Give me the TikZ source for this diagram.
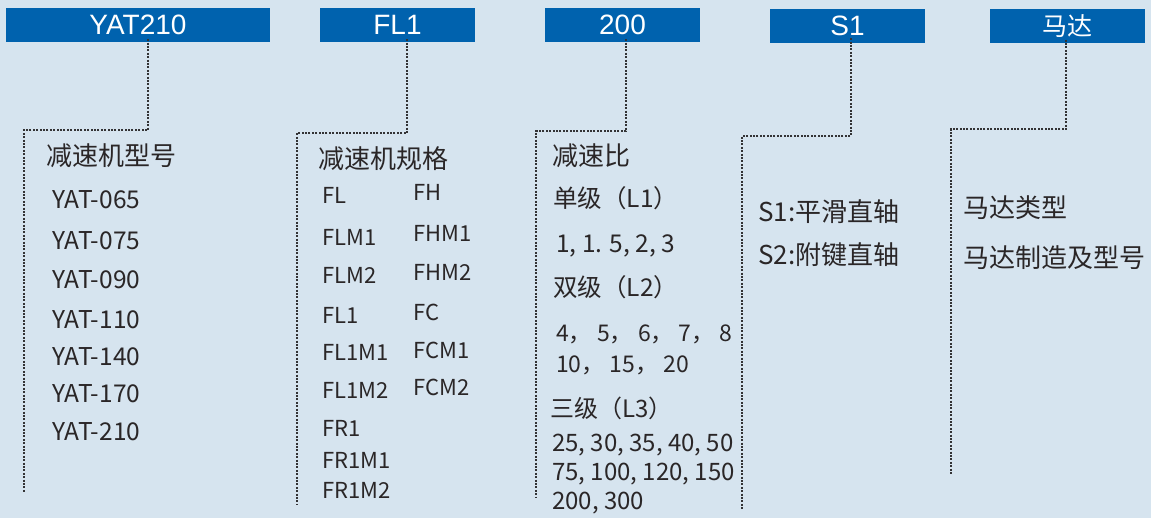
\documentclass[tikz,border=0pt]{standalone}
\usepackage{fontspec}
\setmainfont{Liberation Sans}
\newfontfamily\cjk{Noto Sans CJK SC}
\definecolor{bgblue}{HTML}{D6E4EF}
\definecolor{hdrblue}{HTML}{0062AE}
\definecolor{txtgray}{HTML}{2A2627}
\definecolor{dotgray}{HTML}{333335}
\begin{document}
\begin{tikzpicture}[x=1pt,y=-1pt,
	hdr/.style={fill=hdrblue, text=white, inner sep=0pt, minimum width=155pt, minimum height=34pt, font=\fontsize{28}{28}\selectfont},
	lbl/.style={anchor=west, inner sep=0pt, text=txtgray, font=\cjk\fontsize{24}{24}\selectfont},
	small/.style={lbl, font=\cjk\fontsize{22}{22}\selectfont},
	big/.style={lbl, font=\cjk\fontsize{24.5}{24.5}\selectfont},
	ttl/.style={lbl, font=\cjk\fontsize{26}{26}\selectfont},
	dotline/.style={dotgray, line width=2.2pt, dash pattern=on 2pt off 1.4pt}]
	
	\fill[bgblue] (0,0) rectangle (1151,518);
	\useasboundingbox (0,0) rectangle (1151,518);
	
	% headers
	\node[hdr, minimum width=264pt] (hYat) at (138,25) {YAT210};
	\node[hdr] (hFl) at (397.5,25) {FL1};
	\node[hdr] (hRatio) at (622.5,25) {200};
	\node[hdr] (hShaft) at (847.5,26) {S1};
	\node[hdr] (hMotor) at (1067.5,26.5) {\cjk\fontsize{25}{25}\selectfont 马达};
	
	% dotted connectors
	\coordinate (k1) at (24,130);   \coordinate (e1) at (24,492);
	\coordinate (k2) at (297,133);  \coordinate (e2) at (297,505);
	\coordinate (k3) at (536,131);  \coordinate (e3) at (536,498);
	\coordinate (k4) at (742,136);  \coordinate (e4) at (742,510);
	\coordinate (k5) at (951,129);  \coordinate (e5) at (951,475);
	\draw[dotline] ([xshift=10pt,yshift=3pt]hYat.south) |- (k1) -- (e1);
	\draw[dotline] ([xshift=9.5pt,yshift=3pt]hFl.south) |- (k2) -- (e2);
	\draw[dotline] ([xshift=3.5pt,yshift=3pt]hRatio.south) |- (k3) -- (e3);
	\draw[dotline] ([xshift=3.5pt,yshift=5pt]hShaft.south) |- (k4) -- (e4);
	\draw[dotline] ([xshift=-1.5pt,yshift=4pt]hMotor.south) |- (k5) -- (e5);
	
	% column 1
	\node[ttl] (t1) at (46,156) {减速机型号};
	\foreach \name/\y in {065/200, 075/241, 090/280, 110/320, 140/357, 170/394, 210/432}
		\node[big] (y\name) at (52,\y) {YAT-\name};
	
	% column 2
	\node[ttl] (t2) at (318,159) {减速机规格};
	\foreach \name/\y in {FL/195, FLM1/237, FLM2/275, FL1/315, FL1M1/352, FL1M2/390, FR1/428, FR1M1/460, FR1M2/490}
		\node[small] (f\name) at (322,\y) {\name};
	\foreach \name/\y in {FH/192, FHM1/233, FHM2/272, FC/312, FCM1/350, FCM2/387}
		\node[small] (f\name) at (413,\y) {\name};
	
	% column 3
	\node[ttl] (t3) at (552,156) {减速比};
	\node[big] (r1) at (553,198) {单级（L1）};
	\node[big] (r1v) at (556,246) {1, 1. 5, 2, 3};
	\node[big] (r2) at (553,287) {双级（L2）};
	\node[lbl, font=\cjk\fontsize{23}{23}\selectfont] (r2v) at (556,334) {4， 5， 6， 7， 8};
	\node[lbl, font=\cjk\fontsize{23}{23}\selectfont] (r2w) at (556,365) {10， 15， 20};
	\node[lbl] (r3) at (550,408) {三级（L3）};
	\node[lbl] (r3v) at (552,445) {25, 30, 35, 40, 50};
	\node[lbl] (r3w) at (552,474) {75, 100, 120, 150};
	\node[lbl] (r3x) at (552,503) {200, 300};
	
	% column 4
	\node[ttl] (s1) at (758,212) {S1:平滑直轴};
	\node[ttl] (s2) at (758,255) {S2:附键直轴};
	
	% column 5
	\node[ttl] (m1) at (963,208) {马达类型};
	\node[ttl] (m2) at (963,258) {马达制造及型号};
	
\end{tikzpicture}
\end{document}
